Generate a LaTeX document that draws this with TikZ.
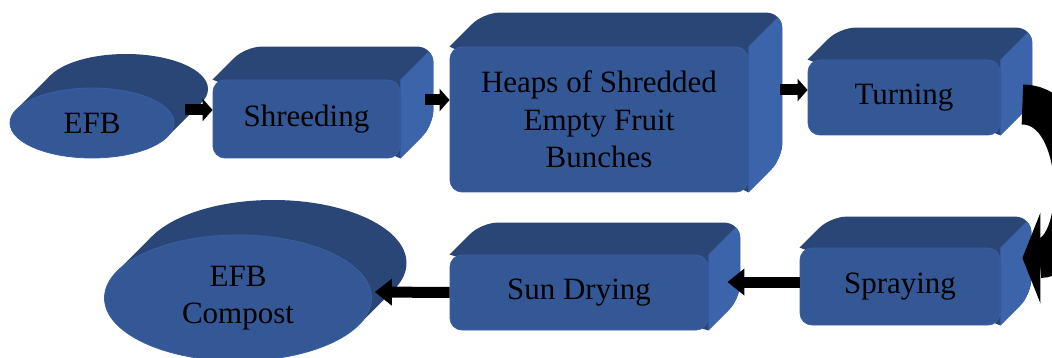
\documentclass[tikz,border=0pt]{standalone}
\usepackage{fontspec}
\setmainfont{Liberation Serif}
\usetikzlibrary{arrows.meta,backgrounds,calc,shapes.geometric}
\definecolor{facefront}{RGB}{52,88,150}
\definecolor{facetop}{RGB}{42,70,118}
\definecolor{faceside}{RGB}{60,100,170}
\begin{document}
\begin{tikzpicture}[x=1pt,y=-1pt,
    face/.style={fill=facefront,draw=faceside!60!facefront,line width=0.8pt,inner sep=0pt,align=center,font=\fontsize{31}{37.5}\selectfont},
    box/.style={face,rectangle,rounded corners=12pt},
    blob/.style={face,ellipse},
    arr/.style={line width=11pt,-{Triangle[length=10pt,width=22pt]}},
    arrl/.style={line width=11pt,-{Triangle[length=17pt,width=26pt]}}]
    \useasboundingbox (0,0) rectangle (1052,358);
    % boxes: name/x/y/width/height/text
    \foreach \n/\x/\y/\w/\h/\t in {shred/306.5/119/187/78/Shreeding,
        heaps/599/119.5/298/145/{Heaps of Shredded\\Empty Fruit\\Bunches},
        turn/904/97.5/192/75/Turning,spray/900/286.5/200/77/Spraying,
        sun/579/292.5/258/75/Sun Drying}
        \node[box,minimum width=\w pt,minimum height=\h pt] (\n) at (\x,\y) {\t};
    \foreach \n/\x/\y/\w/\h/\t in {efb/92/123/164/70/EFB,comp/238/298/267/126/{EFB\\Compost}}
        \node[blob,minimum width=\w pt,minimum height=\h pt] (\n) at (\x,\y) {\t};
    \begin{pgfonlayer}{background}
        \fill[white] (0,0) rectangle (1052,358);
        \foreach \n/\d in {shred/33,heaps/34,turn/32,spray/31,sun/32}{
            \begin{scope}
                \path[clip,preaction={fill=facetop}] (\n.north west) [rounded corners=16pt] -- ++(\d,-\d) -- ($(\n.north east)+(\d,-\d)$)
                    -- ($(\n.south east)+(\d,-\d)$) [sharp corners] -- (\n.south east) -- (\n.north west) -- cycle;
                \fill[faceside] (\n.north east) -- ++(\d,-\d) -- ($(\n.south east)+(\d,-\d)$) -- (\n.south east) -- cycle;
            \end{scope}
        }
        % extruded ellipses: name/rx/ry/depth
        \foreach \n/\rx/\ry/\d in {efb/82/35/34,comp/133.5/63/35}{
            \pgfmathsetmacro\px{\rx*cos(atan(\ry/\rx))}
            \pgfmathsetmacro\py{\ry*sin(atan(\ry/\rx))}
            \fill[facetop] ($(\n)+(\px,\py)$) -- ++(\d,-\d) -- ($(\n)+(-\px,-\py)+(\d,-\d)$) -- ($(\n)+(-\px,-\py)$) -- cycle;
            \fill[facetop] ($(\n)+(\d,-\d)$) ellipse[x radius=\rx,y radius=\ry];
        }
    \end{pgfonlayer}
    % arrows
    \draw[arr] ([xshift=11pt,yshift=13pt]efb.east) -- ([yshift=9pt]shred.west);
    \draw[arr] ([xshift=25pt,yshift=19pt]shred.east) -- ([yshift=19.5pt]heaps.west);
    \draw[arr] ([xshift=32pt,yshift=29.5pt]heaps.east) -- ([yshift=7.5pt]turn.west);
    \draw[line width=40pt,-{Triangle[length=18pt,width=90pt]}] ([xshift=22pt,yshift=-7pt]turn.east)
        to[out=0,in=0,looseness=1.1] ([xshift=22pt,yshift=28.5pt]spray.east);
    \draw[arrl] ([yshift=4.5pt]spray.west) -- ([xshift=19pt,yshift=10.5pt]sun.east);
    \draw[arrl] (sun.west) -- ([xshift=3pt,yshift=6pt]comp.east);
\end{tikzpicture}
\end{document}
